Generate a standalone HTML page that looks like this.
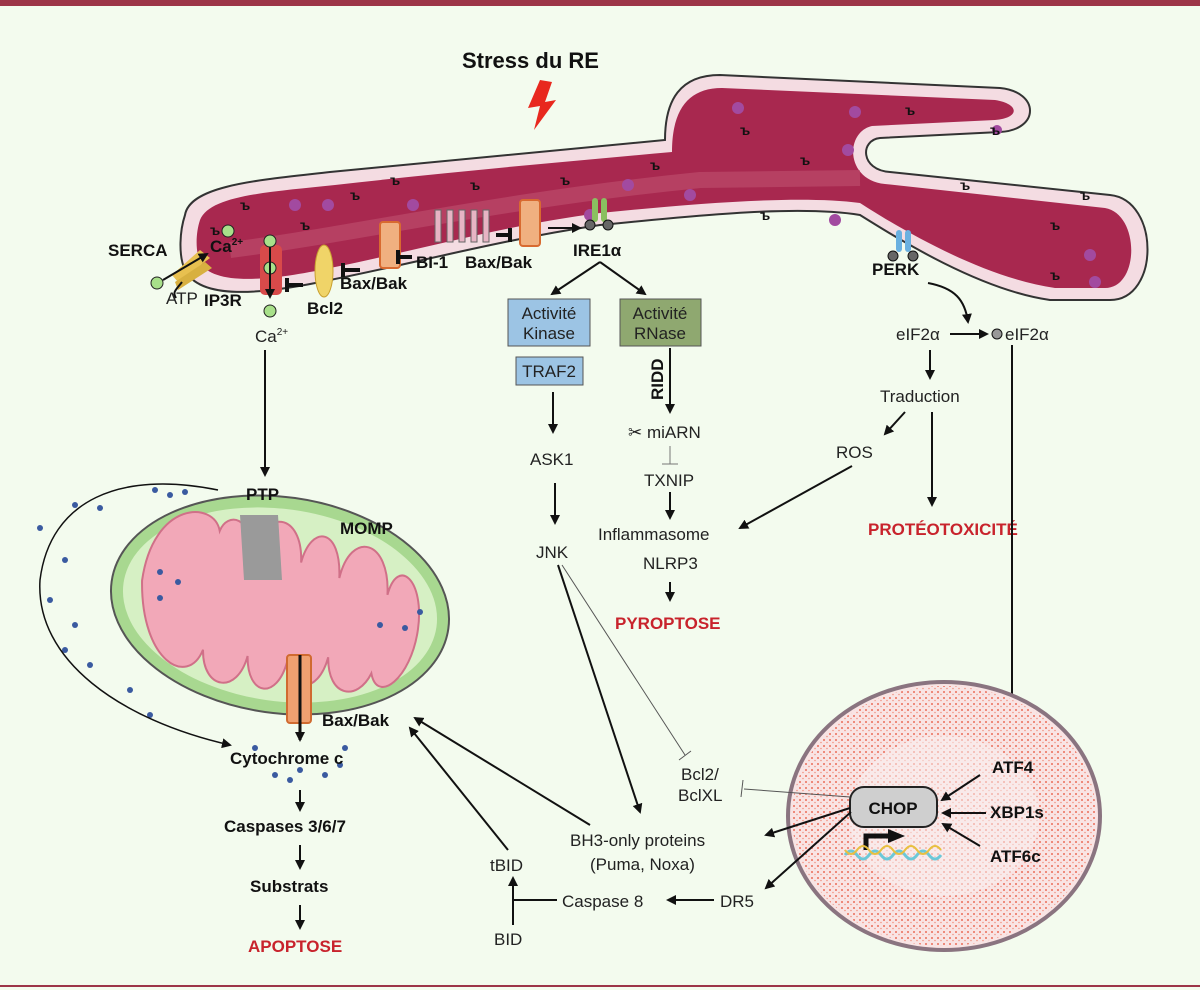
<!DOCTYPE html>
<html><head><meta charset="utf-8"><style>
html,body{margin:0;padding:0;background:#f3fbee;}
svg{display:block;font-family:"Liberation Sans",sans-serif;}
.t{font-size:17px;fill:#222;}
.b{font-weight:bold;font-size:17px;fill:#111;}
.r{font-weight:bold;font-size:17px;fill:#c8232c;}
</style></head><body>
<svg width="1200" height="990" viewBox="0 0 1200 990" xmlns="http://www.w3.org/2000/svg">
<defs>
<marker id="a" markerWidth="10" markerHeight="10" refX="8" refY="5" orient="auto" markerUnits="userSpaceOnUse"><path d="M0,0 L10,5 L0,10 z" fill="#111"/></marker>
<pattern id="dots" width="6" height="6" patternUnits="userSpaceOnUse"><circle cx="2" cy="2" r="1" fill="#e8604a"/><circle cx="5" cy="4.5" r="0.8" fill="#ef8a78"/></pattern>
</defs>
<rect width="1200" height="990" fill="#f3fbee"/>
<rect x="0" y="0" width="1200" height="6" fill="#9c3548"/>
<rect x="0" y="985" width="1200" height="2" fill="#9c3548"/>

<!-- ER -->
<path d="M185,215 C190,185 260,180 330,172 C450,160 560,150 665,140 C665,100 680,75 720,75 L1000,88 C1040,92 1040,130 1000,132 L880,138 C860,140 860,170 890,172 L1110,195 C1160,200 1160,300 1110,300 L1050,300 C980,290 900,240 860,215 C800,205 700,215 600,225 C500,240 420,262 330,280 C260,295 200,300 185,270 C178,255 180,230 185,215 Z" fill="#f4dce2" stroke="#333" stroke-width="2"/>
<path d="M200,220 C210,195 270,192 335,185 C450,172 560,162 672,152 C672,110 688,88 722,88 L995,100 C1020,104 1020,118 995,120 L872,126 C845,132 845,180 885,184 L1105,208 C1140,214 1140,288 1105,288 L1055,288 C985,278 905,232 860,203 C800,195 700,203 600,213 C500,226 420,250 330,268 C265,282 212,285 200,262 C195,250 196,232 200,220 Z" fill="#a8284f"/>
<path d="M230,250 C350,235 500,200 700,180 L860,178" stroke="#c0506f" stroke-width="16" fill="none" opacity="0.6"/>
<g fill="#a24aa0">
<circle cx="295" cy="205" r="6"/><circle cx="328" cy="205" r="6"/><circle cx="413" cy="205" r="6"/><circle cx="590" cy="215" r="6"/><circle cx="628" cy="185" r="6"/><circle cx="690" cy="195" r="6"/><circle cx="738" cy="108" r="6"/><circle cx="848" cy="150" r="6"/><circle cx="855" cy="112" r="6"/><circle cx="835" cy="220" r="6"/><circle cx="1090" cy="255" r="6"/><circle cx="1095" cy="282" r="6"/><circle cx="997" cy="130" r="5"/></g>
<g font-size="14" fill="#111" font-weight="bold">
<text x="210" y="235">ъ</text><text x="240" y="210">ъ</text><text x="300" y="230">ъ</text><text x="350" y="200">ъ</text><text x="390" y="185">ъ</text><text x="470" y="190">ъ</text><text x="560" y="185">ъ</text><text x="650" y="170">ъ</text><text x="740" y="135">ъ</text><text x="800" y="165">ъ</text><text x="905" y="115">ъ</text><text x="990" y="135">ъ</text><text x="960" y="190">ъ</text><text x="1050" y="230">ъ</text><text x="1080" y="200">ъ</text><text x="1050" y="280">ъ</text><text x="760" y="220">ъ</text></g>

<!-- Title & lightning -->
<text x="462" y="68" style="font-weight:bold;font-size:22px;fill:#111">Stress du RE</text>
<path d="M540,80 L528,108 L540,106 L534,130 L556,100 L545,102 L552,82 Z" fill="#e8281e"/>

<!-- Membrane proteins -->
<path d="M178,282 L210,258 L200,250 L172,275 Z" fill="#e8c050"/>
<path d="M178,290 L212,268 L205,262 L175,282 Z" fill="#d8b040"/>
<circle cx="157" cy="283" r="6" fill="#a8e08a" stroke="#222"/>
<circle cx="228" cy="231" r="6" fill="#a8e08a" stroke="#222"/>
<line x1="163" y1="280" x2="207" y2="254" stroke="#111" stroke-width="2" marker-end="url(#a)"/>
<path d="M182,282 C176,290 172,292 176,298" stroke="#111" stroke-width="2" fill="none"/>
<rect x="260" y="245" width="22" height="50" rx="5" fill="#d84a4a"/>
<circle cx="270" cy="241" r="6" fill="#a8e08a" stroke="#222"/><circle cx="270" cy="268" r="6" fill="#a8e08a" stroke="#222"/><circle cx="270" cy="311" r="6" fill="#a8e08a" stroke="#222"/>
<line x1="270" y1="247" x2="270" y2="297" stroke="#111" stroke-width="2" marker-end="url(#a)"/>
<ellipse cx="324" cy="271" rx="9" ry="26" fill="#f0d468" stroke="#c8a030"/>
<rect x="380" y="222" width="20" height="46" rx="3" fill="#f0b080" stroke="#d86a30" stroke-width="2"/>
<rect x="520" y="200" width="20" height="46" rx="3" fill="#f0b080" stroke="#d86a30" stroke-width="2"/>
<g stroke="#666" fill="#e7b4c4"><rect x="435" y="210" width="6" height="32"/><rect x="447" y="210" width="6" height="32"/><rect x="459" y="210" width="6" height="32"/><rect x="471" y="210" width="6" height="32"/><rect x="483" y="210" width="6" height="32"/></g>
<rect x="592" y="198" width="6" height="24" rx="3" fill="#8ac060"/><rect x="601" y="198" width="6" height="24" rx="3" fill="#8ac060"/>
<circle cx="590" cy="225" r="5" fill="#666" stroke="#111"/><circle cx="608" cy="225" r="5" fill="#666" stroke="#111"/>
<rect x="896" y="230" width="6" height="22" rx="3" fill="#6ab0e0"/><rect x="905" y="230" width="6" height="22" rx="3" fill="#6ab0e0"/>
<circle cx="893" cy="256" r="5" fill="#666" stroke="#111"/><circle cx="913" cy="256" r="5" fill="#666" stroke="#111"/>

<!-- Inhibition bars -->
<g stroke="#111" stroke-width="4" fill="none">
<path d="M287,285 L303,285 M287,278 L287,292"/>
<path d="M343,270 L360,270 M343,263 L343,277"/>
<path d="M398,257 L412,257 M398,250 L398,264"/>
<path d="M466,235 L480,235 M480,228 L480,242" transform="translate(30,0)"/>
</g>
<line x1="548" y1="228" x2="580" y2="228" stroke="#111" stroke-width="2" marker-end="url(#a)"/>

<text x="108" y="256" class="b">SERCA</text>
<text x="210" y="252" class="b">Ca<tspan font-size="10" dy="-7">2+</tspan></text>
<text x="166" y="304" class="t">ATP</text>
<text x="204" y="306" class="b">IP3R</text>
<text x="255" y="342" class="t" font-size="15">Ca<tspan font-size="10" dy="-7">2+</tspan></text>
<text x="307" y="314" class="b">Bcl2</text>
<text x="340" y="289" class="b">Bax/Bak</text>
<text x="416" y="268" class="b">BI-1</text>
<text x="465" y="268" class="b">Bax/Bak</text>
<text x="573" y="256" class="b" font-size="19">IRE1α</text>

<!-- IRE1 branch -->
<line x1="600" y1="262" x2="552" y2="294" stroke="#111" stroke-width="2" marker-end="url(#a)"/>
<line x1="600" y1="262" x2="645" y2="294" stroke="#111" stroke-width="2" marker-end="url(#a)"/>
<rect x="508" y="299" width="82" height="47" fill="#9cc4e4" stroke="#555"/>
<text x="549" y="319" class="t" text-anchor="middle" font-size="16">Activité</text>
<text x="549" y="339" class="t" text-anchor="middle" font-size="16">Kinase</text>
<rect x="516" y="357" width="67" height="28" fill="#9cc4e4" stroke="#555"/>
<text x="549" y="377" class="t" text-anchor="middle" font-size="16">TRAF2</text>
<rect x="620" y="299" width="81" height="47" fill="#8fa870" stroke="#555"/>
<text x="660" y="319" class="t" text-anchor="middle" font-size="16">Activité</text>
<text x="660" y="339" class="t" text-anchor="middle" font-size="16">RNase</text>
<text x="0" y="0" class="b" font-size="16" transform="translate(663,400) rotate(-90)">RIDD</text>
<line x1="670" y1="348" x2="670" y2="412" stroke="#111" stroke-width="2" marker-end="url(#a)"/>
<text x="628" y="438" class="t">✂ miARN</text>
<line x1="670" y1="446" x2="670" y2="464" stroke="#777"/><line x1="662" y1="464" x2="678" y2="464" stroke="#777"/>
<text x="644" y="486" class="t">TXNIP</text>
<line x1="670" y1="492" x2="670" y2="518" stroke="#111" stroke-width="2" marker-end="url(#a)"/>
<text x="598" y="540" class="t">Inflammasome</text>
<text x="643" y="569" class="t">NLRP3</text>
<line x1="670" y1="582" x2="670" y2="600" stroke="#111" stroke-width="2" marker-end="url(#a)"/>
<text x="615" y="629" class="r">PYROPTOSE</text>

<line x1="553" y1="392" x2="553" y2="432" stroke="#111" stroke-width="2" marker-end="url(#a)"/>
<text x="530" y="465" class="t">ASK1</text>
<line x1="555" y1="483" x2="555" y2="523" stroke="#111" stroke-width="2" marker-end="url(#a)"/>
<text x="536" y="558" class="t">JNK</text>
<line x1="558" y1="565" x2="640" y2="812" stroke="#111" stroke-width="2" marker-end="url(#a)"/>
<line x1="562" y1="565" x2="685" y2="755" stroke="#555"/>
<line x1="679" y1="760" x2="691" y2="751" stroke="#555"/>

<!-- PERK branch -->
<text x="872" y="275" class="b">PERK</text>
<path d="M928,283 C955,288 965,300 968,322" stroke="#111" stroke-width="2" fill="none" marker-end="url(#a)"/>
<text x="896" y="340" class="t">eIF2α</text>
<line x1="950" y1="334" x2="987" y2="334" stroke="#111" stroke-width="2" marker-end="url(#a)"/>
<circle cx="997" cy="334" r="5" fill="#999" stroke="#111"/>
<text x="1005" y="340" class="t">eIF2α</text>
<line x1="930" y1="350" x2="930" y2="378" stroke="#111" stroke-width="2" marker-end="url(#a)"/>
<text x="880" y="402" class="t">Traduction</text>
<line x1="905" y1="412" x2="885" y2="434" stroke="#111" stroke-width="2" marker-end="url(#a)"/>
<text x="836" y="458" class="t">ROS</text>
<line x1="852" y1="466" x2="740" y2="528" stroke="#111" stroke-width="2" marker-end="url(#a)"/>
<line x1="932" y1="412" x2="932" y2="505" stroke="#111" stroke-width="2" marker-end="url(#a)"/>
<text x="868" y="535" class="r">PROTÉOTOXICITÉ</text>
<line x1="1012" y1="345" x2="1012" y2="740" stroke="#111" stroke-width="2" marker-end="url(#a)"/>

<!-- Nucleus -->
<ellipse cx="944" cy="816" rx="156" ry="134" fill="#f9e4e4" stroke="#8a7480" stroke-width="4"/>
<ellipse cx="944" cy="816" rx="152" ry="130" fill="url(#dots)" opacity="0.9"/>
<ellipse cx="944" cy="816" rx="95" ry="80" fill="#f9eeee" opacity="0.55"/>
<rect x="850" y="787" width="87" height="40" rx="14" fill="#cfcfcf" stroke="#222" stroke-width="2"/>
<text x="893" y="814" class="b" text-anchor="middle" font-size="18">CHOP</text>
<path d="M866,850 L866,836 L890,836" stroke="#111" stroke-width="5" fill="none"/>
<path d="M888,829 L905,836 L888,843 Z" fill="#111"/>
<path d="M845,855 q6,-8 12,0 t12,0 t12,0 t12,0 t12,0 t12,0 t12,0 t12,0" stroke="#6cc8d8" stroke-width="3" fill="none"/>
<path d="M845,850 q6,8 12,0 t12,0 t12,0 t12,0 t12,0 t12,0 t12,0 t12,0" stroke="#e8c040" stroke-width="2" fill="none"/>
<text x="992" y="773" class="b">ATF4</text>
<line x1="980" y1="775" x2="942" y2="800" stroke="#111" stroke-width="2" marker-end="url(#a)"/>
<text x="990" y="818" class="b">XBP1s</text>
<line x1="986" y1="813" x2="943" y2="813" stroke="#111" stroke-width="2" marker-end="url(#a)"/>
<text x="990" y="862" class="b">ATF6c</text>
<line x1="980" y1="846" x2="943" y2="824" stroke="#111" stroke-width="2" marker-end="url(#a)"/>
<line x1="850" y1="797" x2="744" y2="789" stroke="#555"/><line x1="743" y1="780" x2="741" y2="797" stroke="#555"/>
<line x1="850" y1="808" x2="766" y2="835" stroke="#111" stroke-width="2" marker-end="url(#a)"/>
<line x1="851" y1="812" x2="766" y2="888" stroke="#111" stroke-width="2" marker-end="url(#a)"/>

<text x="681" y="780" class="t">Bcl2/</text>
<text x="678" y="801" class="t">BclXL</text>
<text x="570" y="846" class="t">BH3-only proteins</text>
<text x="590" y="870" class="t">(Puma, Noxa)</text>
<text x="720" y="907" class="t">DR5</text>
<line x1="714" y1="900" x2="668" y2="900" stroke="#111" stroke-width="2" marker-end="url(#a)"/>
<text x="562" y="907" class="t">Caspase 8</text>
<line x1="557" y1="900" x2="513" y2="900" stroke="#111" stroke-width="2"/>
<line x1="513" y1="925" x2="513" y2="878" stroke="#111" stroke-width="2" marker-end="url(#a)"/>
<text x="494" y="945" class="t">BID</text>
<text x="490" y="871" class="t">tBID</text>
<line x1="508" y1="850" x2="410" y2="728" stroke="#111" stroke-width="2" marker-end="url(#a)"/>
<line x1="590" y1="825" x2="415" y2="718" stroke="#111" stroke-width="2" marker-end="url(#a)"/>

<!-- Mitochondrion -->
<g transform="rotate(8 280 605)">
<ellipse cx="280" cy="605" rx="170" ry="108" fill="#a8d890" stroke="#555" stroke-width="2"/>
<ellipse cx="280" cy="605" rx="158" ry="96" fill="#d6f0c4"/>
<path d="M140,600 C140,520 200,510 210,540 C215,520 240,520 245,560 C250,510 290,510 295,560 C300,520 330,520 335,570 C340,520 380,525 385,580 C390,540 420,560 420,610 C420,660 390,690 380,660 C370,690 340,690 335,650 C330,690 300,690 295,660 C290,700 260,700 255,660 C250,700 215,700 210,660 C200,700 150,680 140,600 Z" fill="#f2a8b8" stroke="#d07088" stroke-width="2"/>
</g>
<path d="M240,515 L278,515 L282,580 L244,580 Z" fill="#9a9a9a"/>
<rect x="287" y="655" width="24" height="68" rx="3" fill="#f0a070" stroke="#d06a30" stroke-width="2"/>
<line x1="300" y1="655" x2="300" y2="740" stroke="#111" stroke-width="3" marker-end="url(#a)"/>
<g fill="#3a5aa0">
<circle cx="170" cy="495" r="3"/><circle cx="185" cy="492" r="3"/><circle cx="155" cy="490" r="3"/><circle cx="100" cy="508" r="3"/><circle cx="75" cy="505" r="3"/><circle cx="40" cy="528" r="3"/><circle cx="65" cy="560" r="3"/><circle cx="50" cy="600" r="3"/><circle cx="75" cy="625" r="3"/><circle cx="65" cy="650" r="3"/><circle cx="90" cy="665" r="3"/><circle cx="130" cy="690" r="3"/><circle cx="150" cy="715" r="3"/><circle cx="160" cy="572" r="3"/><circle cx="178" cy="582" r="3"/><circle cx="160" cy="598" r="3"/><circle cx="380" cy="625" r="3"/><circle cx="420" cy="612" r="3"/><circle cx="405" cy="628" r="3"/><circle cx="255" cy="748" r="3"/><circle cx="275" cy="775" r="3"/><circle cx="300" cy="770" r="3"/><circle cx="325" cy="775" r="3"/><circle cx="345" cy="748" r="3"/><circle cx="290" cy="780" r="3"/><circle cx="340" cy="765" r="3"/></g>
<path d="M218,490 C120,470 50,500 40,580 C35,660 120,720 230,745" stroke="#111" stroke-width="1.5" fill="none" marker-end="url(#a)"/>
<line x1="265" y1="350" x2="265" y2="475" stroke="#111" stroke-width="2" marker-end="url(#a)"/>
<text x="246" y="500" class="b">PTP</text>
<text x="340" y="534" class="b">MOMP</text>
<text x="322" y="726" class="b">Bax/Bak</text>
<text x="230" y="764" class="b">Cytochrome c</text>
<line x1="300" y1="790" x2="300" y2="810" stroke="#111" stroke-width="2" marker-end="url(#a)"/>
<text x="224" y="832" class="b">Caspases 3/6/7</text>
<line x1="300" y1="845" x2="300" y2="868" stroke="#111" stroke-width="2" marker-end="url(#a)"/>
<text x="250" y="892" class="b">Substrats</text>
<line x1="300" y1="905" x2="300" y2="928" stroke="#111" stroke-width="2" marker-end="url(#a)"/>
<text x="248" y="952" class="r">APOPTOSE</text>
</svg>
</body></html>
